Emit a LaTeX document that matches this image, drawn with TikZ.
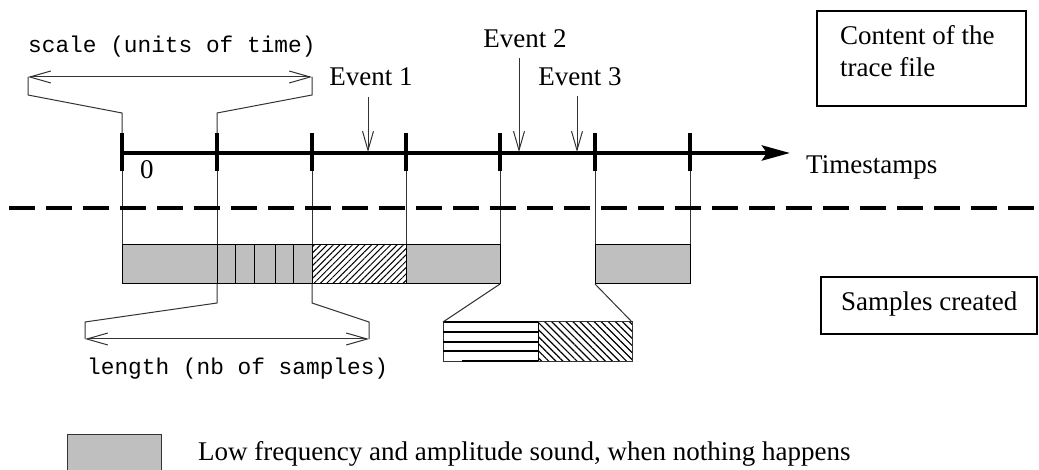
\documentclass[tikz,border=0pt]{standalone}
\usepackage{fontspec}
\setmainfont{Liberation Serif}
\setmonofont{Liberation Mono}
\usetikzlibrary{arrows.meta,patterns.meta}

\begin{document}
\begin{tikzpicture}[x=1pt,y=-1pt,
                    txt/.style={font=\fontsize{27}{32}\selectfont,inner sep=0pt},
                    mono/.style={font=\ttfamily\fontsize{22.8}{26}\selectfont,inner sep=0pt},
                    thin/.style={line width=1pt,black!80},
                    tickmark/.style={line width=4pt},
                    goto/.style={thin,-{Straight Barb[length=19pt,width=11pt]}},
                    span/.style={thin,{Straight Barb[length=21pt,width=12pt]}-{Straight Barb[length=21pt,width=12pt]}},
                    quiet/.style={fill=black!25,draw=black!80,line width=1pt},
                    framebox/.style={draw,line width=2.3pt}]
\useasboundingbox (0,0) rectangle (1039,470);

% time axis
\coordinate (tip) at (790,153);
\draw[line width=4.5pt,-{Stealth[length=28pt,width=15pt,inset=5pt]}] (122,153) -- (tip);
\foreach \i/\x in {0/122,1/217,2/312,3/406,4/500,5/595,6/690} {
  \coordinate (t\i) at (\x,153);
  \draw[tickmark] (\x,133) -- (\x,171);
  \draw[thin] (\x,171) -- (\x,245);
}
\node[txt,anchor=base west] (zero) at (140,179) {0};
\node[txt,anchor=base west] (stamps) at (806,174) {Timestamps};

% events
\coordinate (e1) at (368,152);
\coordinate (e2) at (519,152);
\coordinate (e3) at (577,152);
\node[txt,anchor=base] (ev1) at (371,86) {Event 1};
\node[txt,anchor=base] (ev2) at (525,48) {Event 2};
\node[txt,anchor=base] (ev3) at (580,86) {Event 3};
\draw[goto,shorten <=11pt] (ev1.south -| e1) -- (e1);
\draw[goto,shorten <=10pt] (ev2.south -| e2) -- (e2);
\draw[goto,shorten <=10pt] (ev3.south -| e3) -- (e3);

% scale
\node[mono,anchor=base west] (scale) at (28,53) {scale (units of time)};
\draw[thin] (t0 |- 0,133) -- (122,113) -- (28,95) -- (28,77);
\draw[thin] (t1 |- 0,133) -- (217,113) -- (312,95) -- (312,77);
\draw[span] (28,77) -- (312,77);

% separation
\draw[line width=4pt,dash pattern=on 26pt off 11pt] (9,208) -- (1039,208);

% samples
\fill[black!25] (122,245) rectangle (312,284);
\fill[black!25] (406,245) rectangle (500,284);
\fill[black!25] (595,245) rectangle (690,284);
\fill[pattern={Lines[angle=45,distance=4.5pt,line width=1pt]}] (312,245) rectangle (406,284);
\draw[thin,black] (122,245) rectangle (500,284);
\draw[thin,black] (595,245) rectangle (690,284);
\foreach \x in {217,235,254,275,293,312,406}
  \draw[thin,black] (\x,245) -- (\x,284);

% zoom on the missing sample
\fill[pattern={Lines[angle=-45,distance=5pt,line width=1.2pt]}] (538,322) rectangle (632,361);
\draw[thin] (443,322) rectangle (632,361);
\draw[thin,black] (538,322) -- (538,361);
\foreach \y in {322,332,342,351}
  \draw[line width=1.6pt] (443,\y) -- (538,\y);
\draw[line width=1.6pt] (462,361) -- (538,361);
\draw[thin] (t4 |- 0,284) -- (443,322);
\draw[thin] (t5 |- 0,284) -- (632,322);

% length
\draw[thin] (217,284) -- (217,303) -- (85,322) -- (85,339);
\draw[thin] (312,284) -- (312,303) -- (369,322) -- (369,339);
\draw[span] (85,339) -- (369,339);
\node[mono,anchor=base west] (length) at (87,374) {length (nb of samples)};

% boxes
\node[framebox,minimum width=209pt,minimum height=95pt] (content) at (921.5,58.5) {};
\node[txt,anchor=base west] (content1) at (840,45) {Content of the};
\node[txt,anchor=base west] (content2) at (840,77) {trace file};
\draw[framebox] (1037,277) rectangle (821,334);
\node[txt,anchor=base west] (samples) at (841,311) {Samples created};

% legend
\filldraw[quiet] (67,471) -- (67,434) -- (161,434) -- (161,471);
\node[txt,anchor=base west] (legend) at (198,460) {Low frequency and amplitude sound, when nothing happens};
\end{tikzpicture}
\end{document}
